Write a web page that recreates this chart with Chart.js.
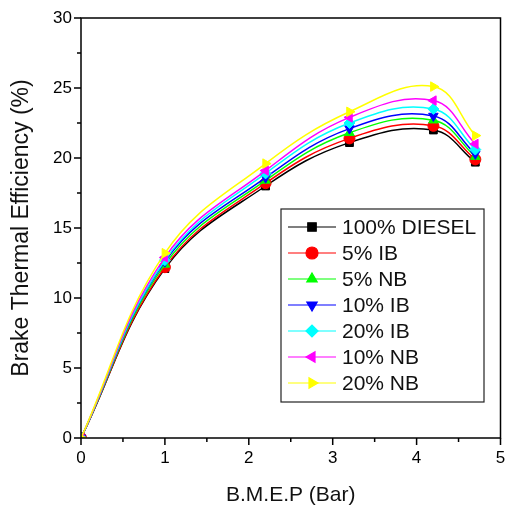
<!DOCTYPE html>
<html lang="en">
<head>
  <meta charset="UTF-8" />
  <title>Brake Thermal Efficiency vs B.M.E.P</title>
  <style>
    body { margin: 0; padding: 0; background: #fff; }
    #wrap { width: 507px; height: 506px; }
  </style>
</head>
<body>
  <div id="wrap"><canvas id="bte" width="507" height="506"></canvas></div>

<script src="https://cdn.jsdelivr.net/npm/chart.js@4.4.0/dist/chart.umd.min.js"></script>
<script>
  // B.M.E.P (Bar) values on the x axis
  const bmep = [0, 1, 2.2, 3.2, 4.2, 4.7];

  // Brake thermal efficiency (%) for each fuel blend
  const diesel100 = [0, 12.1, 18.0, 21.1, 22.0, 19.7];
  const ib5 = [0, 12.2, 18.2, 21.4, 22.3, 19.9];
  const nb5 = [0, 12.4, 18.4, 21.8, 22.7, 20.1];
  const ib10 = [0, 12.6, 18.6, 22.1, 23.0, 20.3];
  const ib20 = [0, 12.7, 18.9, 22.5, 23.5, 20.6];
  const nb10 = [0, 12.9, 19.1, 22.9, 24.1, 21.0];
  const nb20 = [0, 13.2, 19.6, 23.3, 25.1, 21.6];

  const xTicks = [0, 1, 2, 3, 4, 5];
  const yTicks = [0, 5, 10, 15, 20, 25, 30];

  const series = [
    { label: '100% DIESEL', data: diesel100, color: '#000000', style: 'rect', rot: 0 },
    { label: '5% IB', data: ib5, color: '#ff0000', style: 'circle', rot: 0 },
    { label: '5% NB', data: nb5, color: '#00ff00', style: 'triangle', rot: 0 },
    { label: '10% IB', data: ib10, color: '#0000ff', style: 'triangle', rot: 180 },
    { label: '20% IB', data: ib20, color: '#00ffff', style: 'rectRot', rot: 0 },
    { label: '10% NB', data: nb10, color: '#ff00ff', style: 'triangle', rot: 270 },
    { label: '20% NB', data: nb20, color: '#ffff00', style: 'triangle', rot: 90 }
  ];

  const fontFam = "'Liberation Sans', Arial, sans-serif";

  // frame, minor/major ticks, and the legend box inside the plot
  const frameAndLegend = {
    id: 'frameAndLegend',
    afterDraw(chart) {
      const ctx = chart.ctx;
      const a = chart.chartArea;
      const xs = chart.scales.x, ys = chart.scales.y;
      ctx.save();
      ctx.strokeStyle = '#000';
      ctx.lineWidth = 1.5;
      ctx.strokeRect(a.left, a.top, a.right - a.left, a.bottom - a.top);

      ctx.beginPath();
      for (let v = 0; v <= 5.001; v += 0.5) {
        const px = xs.getPixelForValue(v);
        const len = Math.abs(v - Math.round(v)) < 0.01 ? 7 : 4;
        ctx.moveTo(px, a.bottom);
        ctx.lineTo(px, a.bottom + len);
      }
      for (let v = 0; v <= 30.001; v += 2.5) {
        const py = ys.getPixelForValue(v);
        const len = Math.abs(v / 5 - Math.round(v / 5)) < 0.01 ? 7 : 4;
        ctx.moveTo(a.left, py);
        ctx.lineTo(a.left - len, py);
      }
      ctx.stroke();

      // legend
      const bx = 281, by = 209, bw = 203, bh = 193;
      ctx.fillStyle = '#fff';
      ctx.fillRect(bx, by, bw, bh);
      ctx.lineWidth = 1.2;
      ctx.strokeStyle = '#222';
      ctx.strokeRect(bx, by, bw, bh);
      ctx.font = '21px ' + fontFam;
      ctx.textBaseline = 'middle';
      ctx.textAlign = 'left';
      series.forEach((s, i) => {
        const y = 227 + i * 26;
        ctx.strokeStyle = s.color;
        ctx.lineWidth = 1.2;
        ctx.beginPath();
        ctx.moveTo(288, y);
        ctx.lineTo(336, y);
        ctx.stroke();
        ctx.fillStyle = s.color;
        ctx.strokeStyle = s.color;
        Chart.helpers.drawPoint(ctx, { pointStyle: s.style, rotation: s.rot, radius: 6, borderWidth: 1 }, 312, y);
        ctx.fillStyle = '#111';
        ctx.fillText(s.label, 342, y + 1);
      });
      ctx.restore();
    }
  };

  const datasets = series.map((s, i) => ({
    label: s.label,
    data: bmep.map((x, j) => ({ x: x, y: s.data[j] })),
    borderColor: s.color,
    backgroundColor: s.color,
    borderWidth: 1.5,
    pointStyle: s.style,
    rotation: s.rot,
    pointRadius: 5.5,
    pointBorderWidth: 1,
    tension: 0.4,
    showLine: true,
    order: series.length - i
  }));

  new Chart(document.getElementById('bte'), {
    type: 'scatter',
    data: { datasets: datasets },
    options: {
      responsive: false,
      animation: false,
      layout: { padding: { left: 0, top: 18, right: 5, bottom: 0 } },
      plugins: { legend: { display: false }, tooltip: { enabled: false } },
      scales: {
        x: {
          type: 'linear', min: 0, max: 5,
          afterBuildTicks: (sc) => { sc.ticks = xTicks.map(v => ({ value: v })); },
          afterFit: (sc) => { sc.height = 68; sc.paddingLeft = 0; sc.paddingRight = 0; },
          grid: { display: false },
          border: { display: false },
          ticks: { color: '#000', padding: 2, font: { family: fontFam, size: 17 } },
          title: { display: true, text: 'B.M.E.P (Bar)', color: '#111', padding: { top: 0, bottom: 0 }, font: { family: fontFam, size: 21, lineHeight: 1 } }
        },
        y: {
          min: 0, max: 30,
          afterBuildTicks: (sc) => { sc.ticks = yTicks.map(v => ({ value: v })); },
          afterFit: (sc) => { sc.width = 81; sc.paddingTop = 0; sc.paddingBottom = 0; },
          grid: { display: false },
          border: { display: false },
          ticks: { color: '#000', padding: 1, font: { family: fontFam, size: 17 } },
          title: { display: true, text: 'Brake Thermal Efficiency (%)', color: '#111', padding: { top: 10, bottom: 0 }, font: { family: fontFam, size: 23, lineHeight: 1 } }
        }
      }
    },
    plugins: [frameAndLegend]
  });
</script>
</body>
</html>
